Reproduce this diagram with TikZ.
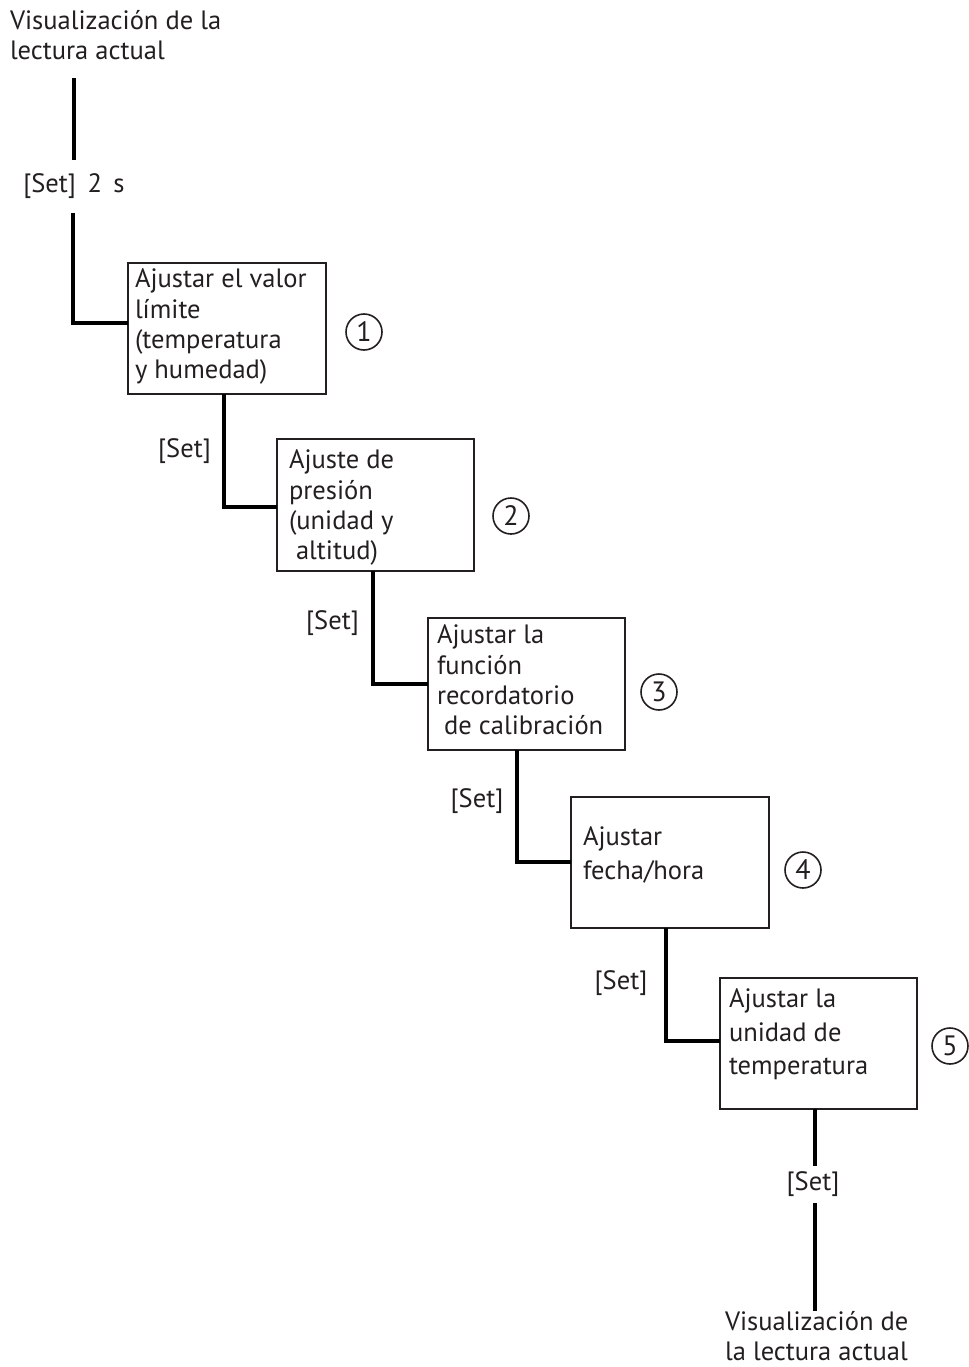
\documentclass[tikz,border=0pt]{standalone}
\usepackage{fontspec}
\setmainfont{PT Sans}
\definecolor{ink}{HTML}{231F20}
\begin{document}
\begin{tikzpicture}[x=0.75pt,y=-0.75pt,
  every node/.style={inner sep=0pt, outer sep=0pt, text=ink},
  txt/.style={font=\fontsize{19.9pt}{22.7pt}\selectfont, align=left, anchor=north west},
  txtwide/.style={font=\fontsize{19.9pt}{25pt}\selectfont, align=left, anchor=north west},
  boxnode/.style={draw=ink, line width=1.5pt, minimum width=148pt, minimum height=98.5pt},
  setlbl/.style={font=\fontsize{19.9pt}{22.7pt}\selectfont},
  circnum/.style={circle, draw=ink, line width=1.2pt, minimum size=27pt, font=\fontsize{21pt}{21pt}\selectfont},
  conn/.style={draw=black, line width=2.8pt}]
\useasboundingbox (0,0) rectangle (969,1367);
% boxes
\node[boxnode] (b1) at (227,328.5) {};
\node[boxnode] (b2) at (375.5,505) {};
\node[boxnode] (b3) at (526.5,684) {};
\node[boxnode] (b4) at (670,862.5) {};
\node[boxnode] (b5) at (818.5,1043.5) {};
% box texts
\node[txt] (t1) at (135,269) {Ajustar el valor\\límite\\(temperatura\\y humedad)};
\node[txt] (t2) at (289,450) {Ajuste de\\presión\\(unidad y\\\ altitud)};
\node[txt] (t3) at (437,625) {Ajustar la\\función\\recordatorio\\\ de calibración};
\node[txtwide] (t4) at (583,827) {Ajustar\\fecha/hora};
\node[txtwide] (t5) at (729,989) {Ajustar la\\unidad de\\temperatura};
% numbers
\node[circnum] (n1) at (364,332) {1};
\node[circnum] (n2) at (511,516) {2};
\node[circnum] (n3) at (659,692) {3};
\node[circnum] (n4) at (803,870) {4};
\node[circnum] (n5) at (950,1046) {5};
% start / end texts
\node[txt] (t0) at (10,10) {Visualización de la\\lectura actual};
\node[txt] (t6) at (725,1311) {Visualización de\\la lectura actual};
% set labels
\node[setlbl, minimum height=39.75pt] (s0) at (74,186.5) {[Set]\ \,2\ \,s};
\node[setlbl] (s1) at (184.5,451) {[Set]};
\node[setlbl] (s2) at (332.5,623) {[Set]};
\node[setlbl] (s3) at (477,801) {[Set]};
\node[setlbl] (s4) at (621,983) {[Set]};
\node[setlbl, minimum height=27.75pt] (s5) at (813,1184.5) {[Set]};
% junction coordinates
\coordinate (j0) at (73,323);
\coordinate (j1) at (224,507);
\coordinate (j2) at (373,684);
\coordinate (j3) at (517,862);
\coordinate (j4) at (666,1041);
\coordinate (top0) at (74,78);
\coordinate (v5) at (815,0);
% connectors
\draw[conn] (top0) -- (s0.north -| top0);
\draw[conn] (s0.south -| j0) -- (j0) -- (b1.west |- j0);
\draw[conn] (b1.south -| j1) -- (j1) -- (b2.west |- j1);
\draw[conn] (b2.south -| j2) -- (j2) -- (b3.west |- j2);
\draw[conn] (b3.south -| j3) -- (j3) -- (b4.west |- j3);
\draw[conn] (b4.south -| j4) -- (j4) -- (b5.west |- j4);
\draw[conn] (b5.south -| v5) -- (s5.north -| v5);
\draw[conn] (s5.south -| v5) -- (t6.north -| v5);
\end{tikzpicture}
\end{document}
